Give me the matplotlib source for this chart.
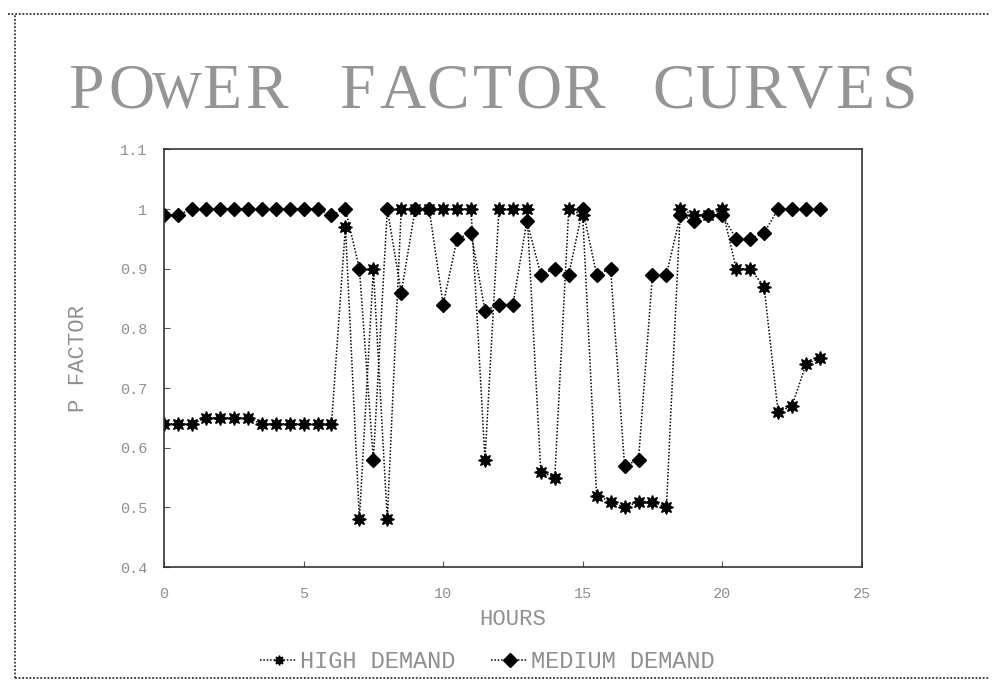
import matplotlib
matplotlib.use("Agg")
import matplotlib.pyplot as plt
from matplotlib.lines import Line2D
import numpy as np

# half-hourly readings, 0 .. 23.5 h
hours = np.arange(0, 24, 0.5)

high_demand = [0.64, 0.64, 0.64, 0.65, 0.65, 0.65, 0.65, 0.64, 0.64, 0.64,
               0.64, 0.64, 0.64, 0.97, 0.48, 0.90, 0.48, 1.00, 1.00, 1.00,
               1.00, 1.00, 1.00, 0.58, 1.00, 1.00, 1.00, 0.56, 0.55, 1.00,
               0.99, 0.52, 0.51, 0.50, 0.51, 0.51, 0.50, 1.00, 0.99, 0.99,
               1.00, 0.90, 0.90, 0.87, 0.66, 0.67, 0.74, 0.75]

medium_demand = [0.99, 0.99, 1.00, 1.00, 1.00, 1.00, 1.00, 1.00, 1.00, 1.00,
                 1.00, 1.00, 0.99, 1.00, 0.90, 0.58, 1.00, 0.86, 1.00, 1.00,
                 0.84, 0.95, 0.96, 0.83, 0.84, 0.84, 0.98, 0.89, 0.90, 0.89,
                 1.00, 0.89, 0.90, 0.57, 0.58, 0.89, 0.89, 0.99, 0.98, 0.99,
                 0.99, 0.95, 0.95, 0.96, 1.00, 1.00, 1.00, 1.00]

x_ticks = [0, 5, 10, 15, 20, 25]
y_ticks = [0.4, 0.5, 0.6, 0.7, 0.8, 0.9, 1.0, 1.1]
y_tick_labels = ["0.4", "0.5", "0.6", "0.7", "0.8", "0.9", "1", "1.1"]

title = "POWER FACTOR CURVES"

FONT = "Liberation Mono"
GREY = "#8f8f8f"

fig = plt.figure(figsize=(9.94, 6.85), dpi=100)
fig.patch.set_facecolor("white")

ax = fig.add_axes([0.165, 0.172, 0.702, 0.610])

line_style = (0, (1, 1.2))
ax.plot(hours, high_demand, color="black", linestyle=line_style, linewidth=1.1,
        marker=(8, 1, 0), markersize=10, label="HIGH DEMAND")
ax.plot(hours, medium_demand, color="black", linestyle=line_style, linewidth=1.1,
        marker="D", markersize=7, label="MEDIUM DEMAND")

ax.set_xlim(0, 25)
ax.set_ylim(0.4, 1.1)
ax.set_xticks(x_ticks)
ax.set_xticklabels([str(t) for t in x_ticks], fontfamily=FONT, fontsize=11, color=GREY)
ax.set_yticks(y_ticks)
ax.set_yticklabels(y_tick_labels, fontfamily=FONT, fontsize=11, color=GREY)
ax.tick_params(direction="in", length=4, color="#555555", pad=12)
ax.tick_params(axis="x", pad=14)

for sp in ax.spines.values():
    sp.set_linestyle((0, (1, 1)))
    sp.set_linewidth(1.2)
    sp.set_color("#333333")

ax.set_xlabel("HOURS", fontfamily=FONT, fontsize=16, color=GREY, labelpad=6)
ax.set_ylabel("P FACTOR", fontfamily=FONT, fontsize=16, color=GREY, labelpad=22)

# widely spaced serif title, one letter per cell (plotter-style fixed pitch)
# the wide W is set a little smaller so it stays inside its cell
pitch = 45.2 / 994
x0 = 86 / 994
for i, ch in enumerate(title):
    if ch == " ":
        continue
    size = 38 if ch == "W" else 46
    fig.text(x0 + i * pitch, 1 - 108 / 685, ch, fontfamily="Liberation Serif",
             fontsize=size, color="#959595", ha="center", va="baseline")

leg = fig.legend(loc="center", bbox_to_anchor=(0.49, 0.034), ncol=2, frameon=False,
                 handlelength=1.6, handletextpad=0.1, columnspacing=1.5,
                 prop={"family": FONT, "size": 17})
for t in leg.get_texts():
    t.set_color(GREY)
for h in leg.legend_handles:
    h.set_markersize(7)

# outer dotted frame (left, top, bottom)
frame_kw = dict(color="#333333", linestyle=(0, (1, 1)), linewidth=1.3,
                transform=fig.transFigure)
fig.add_artist(Line2D([0.015, 0.015], [0.01, 0.98], **frame_kw))
fig.add_artist(Line2D([0.008, 0.995], [0.98, 0.98], **frame_kw))
fig.add_artist(Line2D([0.015, 0.995], [0.01, 0.01], **frame_kw))

fig.savefig("out.png", dpi=100)
